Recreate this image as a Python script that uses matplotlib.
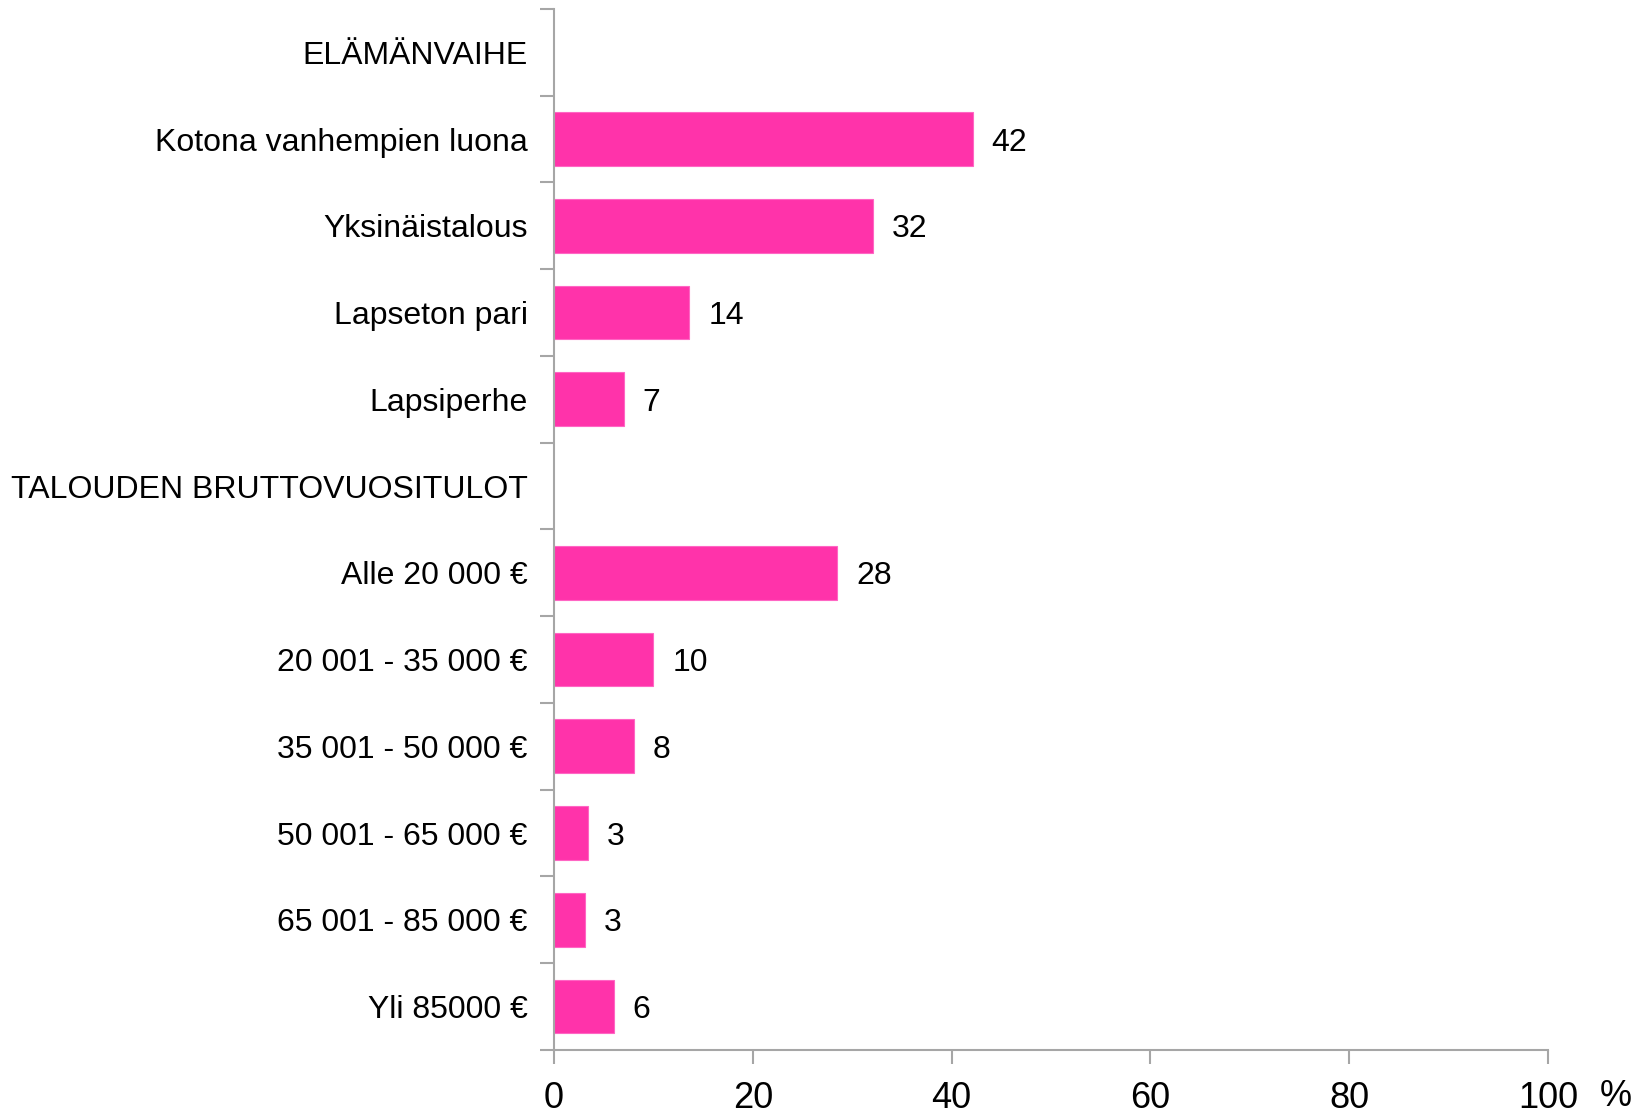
import matplotlib
matplotlib.use("Agg")
import matplotlib.pyplot as plt
import numpy as np

plt.rcParams['font.family'] = ['Liberation Sans', 'DejaVu Sans']

# rows from top to bottom (None = section heading, no bar)
categories = ["ELÄMÄNVAIHE", "Kotona vanhempien luona", "Yksinäistalous",
              "Lapseton pari", "Lapsiperhe", "TALOUDEN BRUTTOVUOSITULOT",
              "Alle 20 000 €", "20 001 - 35 000 €", "35 001 - 50 000 €",
              "50 001 - 65 000 €", "65 001 - 85 000 €", "Yli 85000 €"]
values = [None, 42.1, 32.1, 13.6, 7.0, None, 28.5, 10.0, 8.0, 3.4, 3.1, 6.0]
value_labels = ["", "42", "32", "14", "7", "", "28", "10", "8", "3", "3", "6"]
x_ticks = [0, 20, 40, 60, 80, 100]

grey = "#a6a6a6"
pink = "#ff33aa"

fig = plt.figure(figsize=(16.5, 11.14), dpi=100)
ax = fig.add_axes([0.3358, 0.0575, 0.6024, 0.9345])

y = np.arange(len(categories))
for yi, v, lab in zip(y, values, value_labels):
    if v is None:
        continue
    ax.barh(yi, v, height=0.62, color=pink, edgecolor="#ff66c4", linewidth=0.8)
    ax.text(v + 1.9, yi, lab, va="center_baseline", ha="left", fontsize=23, color="black")

ax.set_ylim(len(categories) - 0.5, -0.5)
ax.set_xlim(0, 100)

# category labels at row centers, ticks at row boundaries
ax.set_yticks(np.arange(len(categories) + 1) - 0.5)
ax.set_yticklabels([])
ax.set_yticks(y, minor=True)
ax.set_yticklabels(categories, minor=True, fontsize=23, va="center_baseline")
ax.tick_params(axis="y", which="major", length=10, width=1.5, color=grey)
ax.tick_params(axis="y", which="minor", length=0, pad=19)

ax.set_xticks(x_ticks)
ax.set_xticklabels([str(t) for t in x_ticks], fontsize=26)
ax.tick_params(axis="x", length=10, width=1.5, color=grey, pad=12)

for side in ["top", "right"]:
    ax.spines[side].set_visible(False)
for side in ["left", "bottom"]:
    ax.spines[side].set_color(grey)
    ax.spines[side].set_linewidth(1.5)

fig.text(1600 / 1650, 1 - 1106 / 1114, "%", fontsize=26, ha="left", va="baseline")

fig.savefig("out.png", dpi=100)
